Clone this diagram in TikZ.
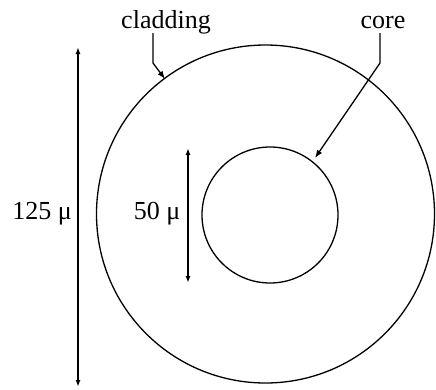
\documentclass[tikz,border=0pt]{standalone}
\usepackage{fontspec}
\setmainfont{Liberation Serif}
\usetikzlibrary{arrows.meta}
\begin{document}
\begin{tikzpicture}[x=1pt,y=-1pt,
  lbl/.style={inner sep=0pt,font=\fontsize{26}{30}\selectfont},
  ring/.style={draw,line width=1.3pt,circle,inner sep=0pt},
  dim/.style={line width=2pt,{Latex[length=7pt,width=5pt]}-{Latex[length=7pt,width=5pt]}},
  lead/.style={line width=1.3pt,-{Latex[length=8pt,width=6pt]}}]
\useasboundingbox (0,0) rectangle (436,389);
\node[ring,minimum size=338pt] (outer) at (265.5,214) {};
\node[ring,minimum size=136pt] (inner) at (270,215) {};
\coordinate (bigtop) at (78,47);
\coordinate (bigbot) at (78,387);
\draw[dim] (bigtop) -- (bigbot);
\coordinate (smtop) at (188,148);
\coordinate (smbot) at (188,283);
\draw[dim] (smtop) -- (smbot);
\node[lbl] (l125) at (42,214) {125 μ};
\node[lbl] (l50) at (157,214) {50 μ};
\node[lbl] (clad) at (166,22) {cladding};
\node[lbl] (core) at (383,22) {core};
\coordinate (cladtip) at (165,79);
\coordinate (coretip) at (315,158);
\draw[lead] (153,33) -- (153,63) -- (cladtip);
\draw[lead] (380,33) -- (380,63) -- (coretip);
\end{tikzpicture}
\end{document}
